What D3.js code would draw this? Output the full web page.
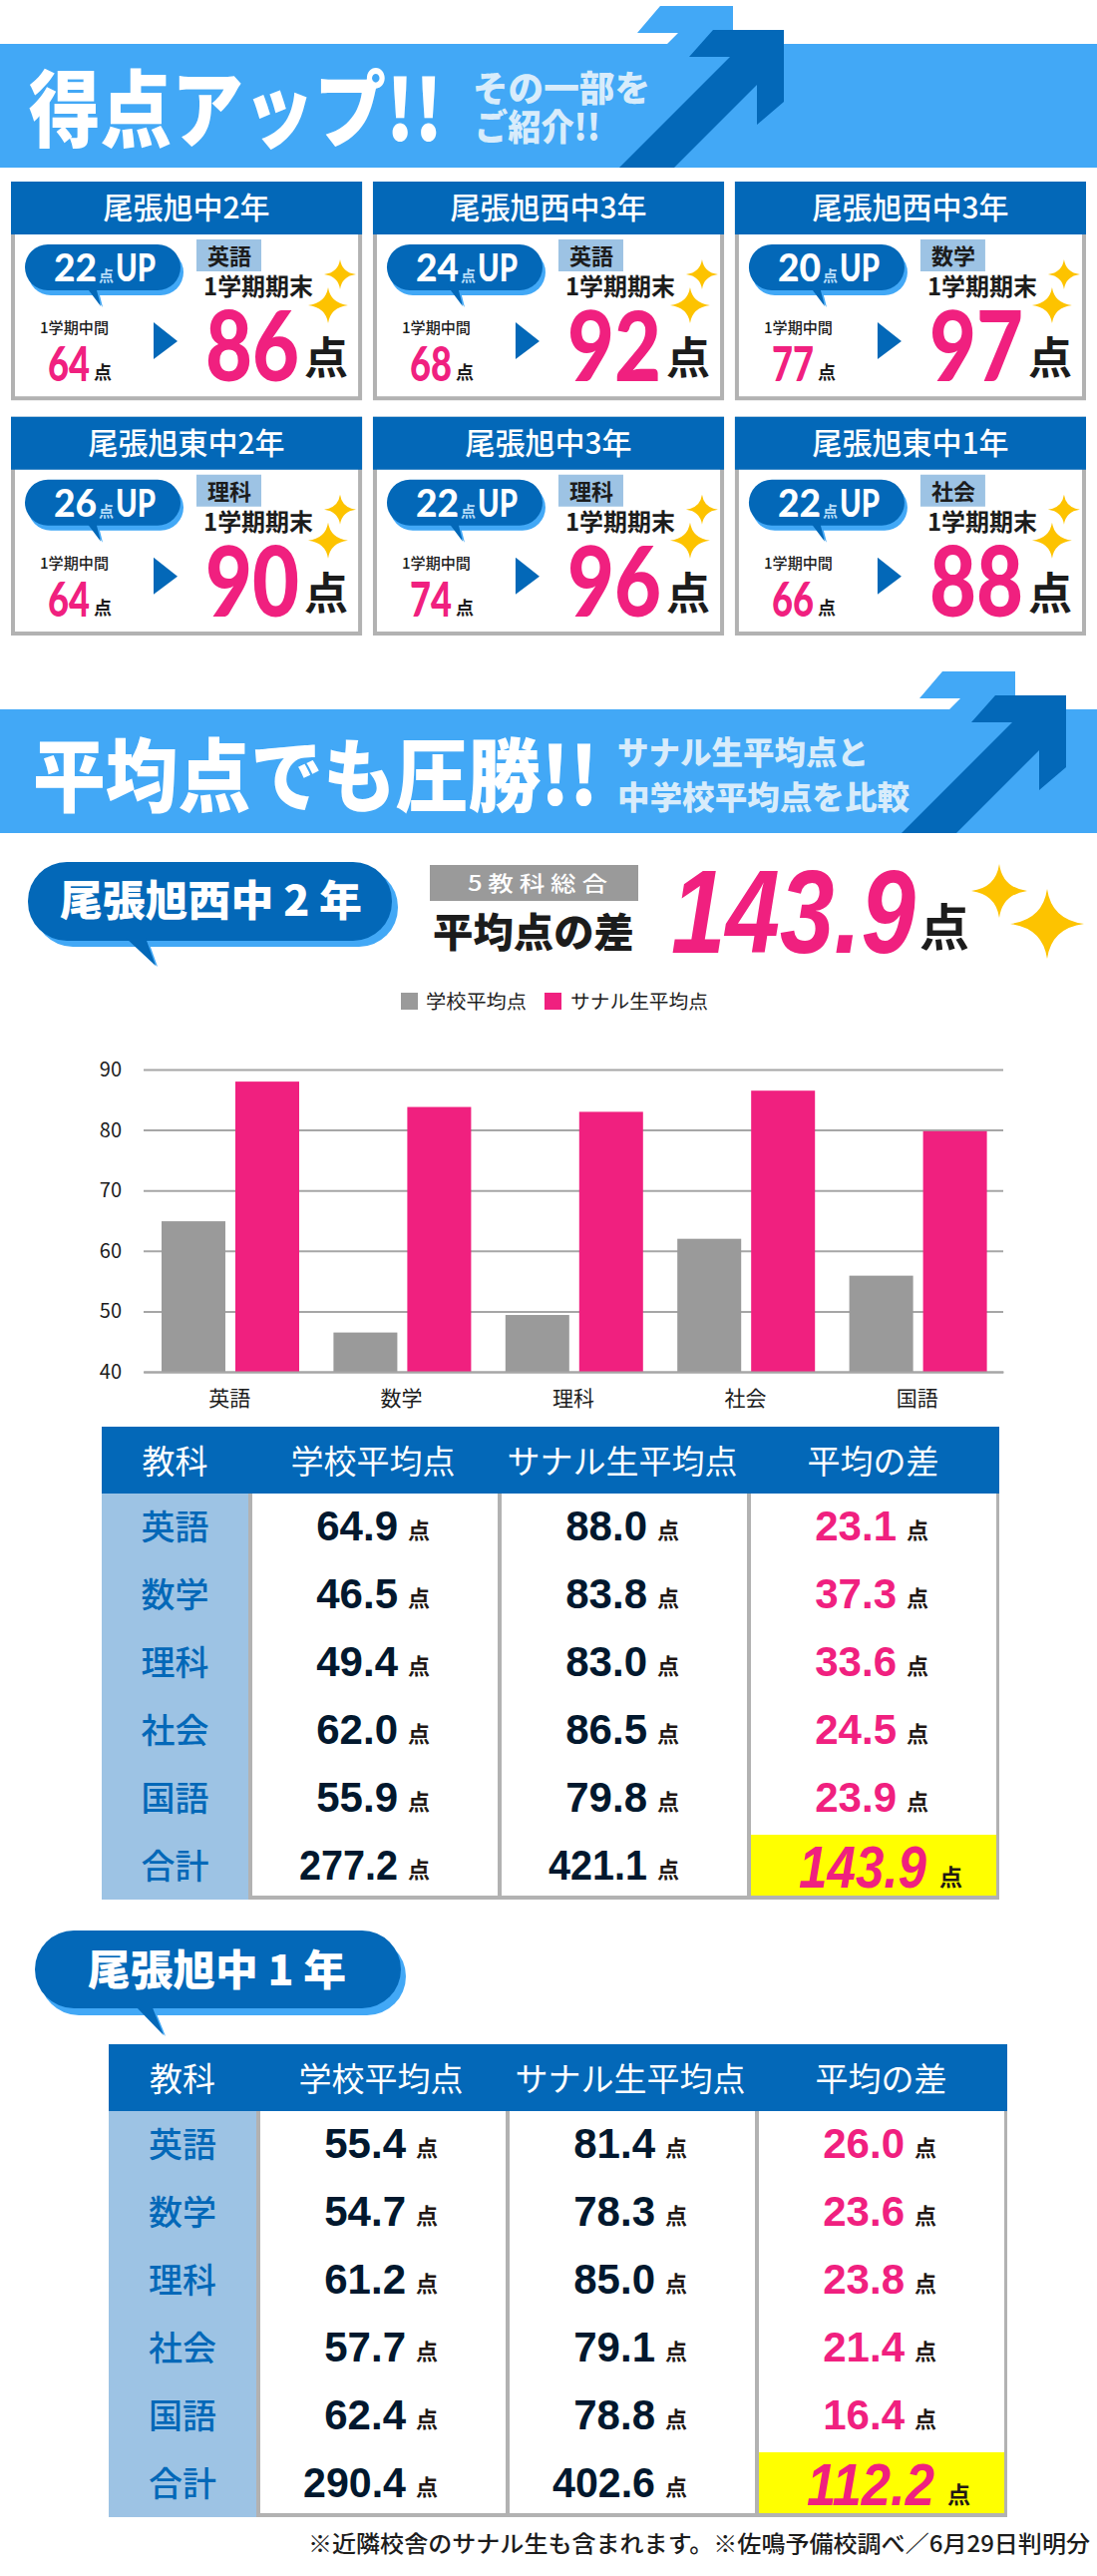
<!DOCTYPE html>
<html>
<head>
<meta charset="utf-8">
<style>
  html, body { margin: 0; background: #fff; }
  svg { display: block; }
</style>
<script src="https://cdn.jsdelivr.net/npm/d3@7"></script>
</head>
<body>
<div id="chart"></div>
<script>
// card values
const cardSchools = ['尾張旭中2年', '尾張旭西中3年', '尾張旭西中3年', '尾張旭東中2年', '尾張旭中3年', '尾張旭東中1年'];
const cardUps = [22, 24, 20, 26, 22, 22];
const cardSubjects = ['英語', '英語', '数学', '理科', '理科', '社会'];
const cardMidterms = [64, 68, 77, 64, 74, 66];
const cardFinals = [86, 92, 97, 90, 96, 88];

// subjects and tables
const subjects = ['英語', '数学', '理科', '社会', '国語'];
const rowLabels = ['英語', '数学', '理科', '社会', '国語', '合計'];
const tableHeads = ['教科', '学校平均点', 'サナル生平均点', '平均の差'];
const west2School = [64.9, 46.5, 49.4, 62.0, 55.9];
const west2Sanaru = [88.0, 83.8, 83.0, 86.5, 79.8];
const west2Diff = [23.1, 37.3, 33.6, 24.5, 23.9];
const west2Totals = [277.2, 421.1, 143.9];
const asahi1School = [55.4, 54.7, 61.2, 57.7, 62.4];
const asahi1Sanaru = [81.4, 78.3, 85.0, 79.1, 78.8];
const asahi1Diff = [26.0, 23.6, 23.8, 21.4, 16.4];
const asahi1Totals = [290.4, 402.6, 112.2];
const yTicks = [40, 50, 60, 70, 80, 90];

const BLUE = '#0368b8', SKY = '#42a8f6', PINK = '#f0207f', GREY = '#9a9a9a';
const LINE = '#b2b2b2', TAG = '#9dc3e4', STAR = '#fdc300', PALE = '#d8ecfb', INK = '#1c1c1c';
const JP = '"Noto Sans CJK JP", sans-serif';
const NUM = 'Lato, sans-serif';
const ARIAL = '"Liberation Sans", sans-serif';

const svg = d3.select('#chart').append('svg')
  .attr('width', 1100)
  .attr('height', 2582);

// w squeezes the text into a measured width, same as the condensed type in the picture
function txt(g, s, x, y, size, o = {}) {
  const t = g.append('text')
    .attr('x', x)
    .attr('y', y)
    .attr('font-family', o.font || JP)
    .attr('font-size', size)
    .attr('font-weight', o.weight || 700)
    .attr('fill', o.fill || INK)
    .attr('text-anchor', o.anchor || 'start')
    .text(s);
  if (o.italic) t.attr('font-style', 'italic');
  if (o.w) t.attr('textLength', o.w).attr('lengthAdjust', 'spacingAndGlyphs');
  return t;
}

function poly(g, pts, fill) {
  return g.append('path').attr('d', 'M' + pts.join('L') + 'Z').attr('fill', fill);
}

function sparkle(g, cx, cy, rx, ry) {
  const p = d3.path();
  const kx = rx * 0.12, ky = ry * 0.12;
  p.moveTo(cx, cy - ry);
  p.quadraticCurveTo(cx + kx, cy - ky, cx + rx, cy);
  p.quadraticCurveTo(cx + kx, cy + ky, cx, cy + ry);
  p.quadraticCurveTo(cx - kx, cy + ky, cx - rx, cy);
  p.quadraticCurveTo(cx - kx, cy - ky, cx, cy - ry);
  g.append('path').attr('d', p.toString()).attr('fill', STAR);
}

function bubble(g, x, y, w, h, r, sx, sy, tail) {
  g.append('rect').attr('x', x + sx).attr('y', y + sy).attr('width', w).attr('height', h).attr('rx', r).attr('fill', SKY);
  poly(g, tail.map(d => [d[0] + 2, d[1] + 1]), SKY);
  g.append('rect').attr('x', x).attr('y', y).attr('width', w).attr('height', h).attr('rx', r).attr('fill', BLUE);
  poly(g, tail, BLUE);
}

function banner(top) {
  const g = svg.append('g').attr('transform', `translate(0,${top})`);
  const dx = top === 44 ? 0 : 283;
  poly(g, [[662 + dx, -38], [735 + dx, -38], [735 + dx, 0], [669 + dx, 0], [680 + dx, -11], [639 + dx, -11]], SKY);
  g.append('rect').attr('width', 1100).attr('height', 124).attr('fill', SKY);
  poly(g, [[715 + dx, -14], [786 + dx, -14], [786 + dx, 58], [759 + dx, 81], [759 + dx, 41], [676 + dx, 124], [621 + dx, 124], [732 + dx, 13], [691 + dx, 13]], BLUE);
  return g;
}

// headline banners
const b1 = banner(44);
txt(b1, '得点アップ!!', 29, 97, 84, { fill: '#fff', weight: 900, w: 415 });
txt(b1, 'その一部を', 474, 58, 36, { fill: PALE, weight: 900, w: 178 });
txt(b1, 'ご紹介!!', 476, 97, 36, { fill: PALE, weight: 900, w: 126 });

const b2 = banner(711);
txt(b2, '平均点でも圧勝!!', 33, 96, 80, { fill: '#fff', weight: 900, w: 567 });
txt(b2, 'サナル生平均点と', 619, 55, 32, { fill: PALE, weight: 900, w: 252 });
txt(b2, '中学校平均点を比較', 619, 100, 32, { fill: PALE, weight: 900, w: 293 });

// result cards
const cardX = d3.scaleBand().domain([0, 1, 2]).range([11, 1089]).paddingInner(0.03);
const cardY = d3.scaleBand().domain([0, 1]).range([182, 637]).paddingInner(0.07);

cardSchools.forEach((school, i) => {
  const g = svg.append('g').attr('transform', `translate(${cardX(i % 3)},${cardY(Math.floor(i / 3))})`);
  const w = cardX.bandwidth(), h = cardY.bandwidth();

  g.append('rect').attr('width', w).attr('height', h).attr('fill', LINE);
  g.append('rect').attr('x', 4).attr('width', w - 8).attr('height', h - 4).attr('fill', '#fff');
  g.append('rect').attr('width', w).attr('height', 53).attr('fill', BLUE);
  txt(g, school, w / 2, 37, 30, { fill: '#fff', weight: 500, anchor: 'middle' });

  bubble(g, 14, 63, 156, 46, 23, 3, 5, [[75, 105], [90, 125], [85, 105]]);
  txt(g, cardUps[i], 43, 100, 38, { font: NUM, weight: 900, fill: '#fff', w: 43 });
  txt(g, '点', 88, 100, 15, { fill: '#b5dcf8' });
  txt(g, 'UP', 105, 100, 38, { font: NUM, weight: 900, fill: '#fff', w: 40 });

  g.append('rect').attr('x', 186).attr('y', 58).attr('width', 65).attr('height', 32).attr('fill', TAG);
  txt(g, cardSubjects[i], 197, 83, 22);
  txt(g, '1学期期末', 193, 114, 24, { w: 110 });
  sparkle(g, 330, 93, 16, 15);
  sparkle(g, 318, 124, 20, 18);

  txt(g, '1学期中間', 29, 152, 15, { weight: 500, w: 69 });
  txt(g, cardMidterms[i], 37, 200, 47, { font: NUM, weight: 900, fill: PINK, w: 42 });
  txt(g, '点', 83, 198, 18);
  poly(g, [[143, 141], [167, 160], [143, 178]], BLUE);

  txt(g, cardFinals[i], 195, 200, 98, { font: NUM, weight: 900, fill: PINK, w: 94 });
  txt(g, '点', 294, 193, 44);
});

// 尾張旭西中 2年 heading
bubble(svg, 28, 864, 365, 79, 39, 6, 6, [[126, 940], [156, 968], [146, 940]]);
txt(svg, '尾張旭西中 2 年', 60, 918, 42, { fill: '#fff', weight: 900, w: 303 });
svg.append('rect').attr('x', 431).attr('y', 867).attr('width', 209).attr('height', 36).attr('fill', GREY);
txt(svg, '5 教 科 総 合', 469, 893, 21, { fill: '#fff', weight: 500, w: 140 });
txt(svg, '平均点の差', 434, 949, 40, { weight: 900, w: 202 });
txt(svg, west2Totals[2], 673, 955, 118, { font: ARIAL, fill: PINK, italic: true, w: 245 });
txt(svg, '点', 922, 948, 50, { w: 50 });
sparkle(svg, 1002, 893, 28, 27);
sparkle(svg, 1050, 926, 37, 35);

// legend
const legendItems = [['学校平均点', GREY, 402, 427, 101], ['サナル生平均点', PINK, 546, 572, 138]];
legendItems.forEach(d => {
  svg.append('rect').attr('x', d[2]).attr('y', 995).attr('width', 17).attr('height', 17).attr('fill', d[1]);
  txt(svg, d[0], d[3], 1011, 19, { weight: 400, w: d[4] });
});

// bar chart
const x = d3.scaleBand().domain(subjects).range([144, 1006]);
const xSeries = d3.scaleBand().domain(['school', 'sanaru']).range([18, 156]).paddingInner(0.135);
const y = d3.scaleLinear().domain([40, 90]).range([1375, 1072]);

const yAxis = svg.append('g')
  .attr('transform', 'translate(144,0)')
  .call(d3.axisLeft(y).tickValues(yTicks).tickSize(-862).tickPadding(22));
yAxis.select('.domain').remove();
yAxis.selectAll('line').attr('stroke', '#a6a6a6').attr('stroke-width', 2);
yAxis.selectAll('text')
  .attr('font-family', JP)
  .attr('font-size', 20)
  .attr('fill', INK);

[['school', west2School, GREY], ['sanaru', west2Sanaru, PINK]].forEach(([key, values, color]) => {
  svg.selectAll('.bar-' + key)
    .data(values)
    .enter()
    .append('rect')
    .attr('class', 'bar-' + key)
    .attr('x', (d, i) => x(subjects[i]) + xSeries(key))
    .attr('y', d => y(d))
    .attr('width', xSeries.bandwidth())
    .attr('height', d => y(40) - y(d))
    .attr('fill', color);
});

const xAxis = svg.append('g')
  .attr('transform', 'translate(0,1375)')
  .call(d3.axisBottom(x).tickSize(0).tickPadding(19));
xAxis.select('.domain').attr('stroke', '#a6a6a6').attr('stroke-width', 2);
xAxis.selectAll('text')
  .attr('font-family', JP)
  .attr('font-size', 21)
  .attr('fill', INK);

function drawTable(top, edges, school, sanaru, diff, totals, totalW) {
  const g = svg.append('g');
  const bottom = top + 474;
  const rows = d3.scaleBand().domain(rowLabels).range([top + 66, bottom]);
  const fmt = d3.format('.1f');
  const right = edges[4];

  g.append('rect').attr('x', edges[0]).attr('y', top).attr('width', right - edges[0]).attr('height', bottom - top).attr('fill', LINE);
  g.append('rect').attr('x', edges[0]).attr('y', top + 67).attr('width', edges[1] - edges[0]).attr('height', bottom - top - 67).attr('fill', TAG);

  [1, 2, 3].forEach(c => {
    const rw = (c === 3 ? right - 3 : edges[c + 1]) - edges[c] - 4;
    g.append('rect').attr('x', edges[c] + 4).attr('y', top + 67).attr('width', rw).attr('height', bottom - top - 71).attr('fill', '#fff');
  });
  g.append('rect').attr('x', edges[3] + 4).attr('y', rows('合計') + 3).attr('width', right - edges[3] - 7).attr('height', bottom - 4 - rows('合計') - 3).attr('fill', '#ffff00');
  g.append('rect').attr('x', edges[0]).attr('y', top).attr('width', right - edges[0]).attr('height', 67).attr('fill', BLUE);

  tableHeads.forEach((h, c) => {
    txt(g, h, (edges[c] + edges[c + 1]) / 2, top + 47, 33, { fill: '#fff', weight: 400, anchor: 'middle', w: c === 2 ? 231 : null });
  });

  rowLabels.forEach((label, r) => {
    const cy = rows(label) + rows.bandwidth() / 2;
    txt(g, label, (edges[0] + edges[1]) / 2, cy + 13, 34, { fill: BLUE, weight: 500, anchor: 'middle' });
    const cells = r < 5 ? [school[r], sanaru[r], diff[r]] : totals;
    cells.forEach((v, c) => {
      const left = edges[c + 1];
      if (r === 5 && c === 2) {
        txt(g, fmt(v), left + 52, cy + 22, 60, { font: ARIAL, italic: true, fill: PINK, w: 128 });
        txt(g, '点', left + 193, cy + 20, 23, { fill: '#231815' });
      } else {
        txt(g, fmt(v), left + 150, cy + 14, 42, { font: ARIAL, anchor: 'end', fill: c === 2 ? PINK : '#02182e', w: r === 5 ? totalW : null });
        txt(g, '点', left + 160, cy + 12, 22, { fill: '#231815' });
      }
    });
  });
}

drawTable(1430, [102, 249, 499, 749, 1002], west2School, west2Sanaru, west2Diff, west2Totals, 99);

// 尾張旭中 1年 heading
bubble(svg, 35, 1935, 367, 78, 39, 5, 7, [[135, 2010], [164, 2040], [152, 2010]]);
txt(svg, '尾張旭中 1 年', 88, 1990, 42, { fill: '#fff', weight: 900, w: 259 });

drawTable(2049, [109, 257, 507, 757, 1010], asahi1School, asahi1Sanaru, asahi1Diff, asahi1Totals, 103);

txt(svg, '※近隣校舎のサナル生も含まれます。※佐鳴予備校調べ／6月29日判明分', 309, 2558, 23, { weight: 500, w: 784 });
</script>
</body>
</html>
